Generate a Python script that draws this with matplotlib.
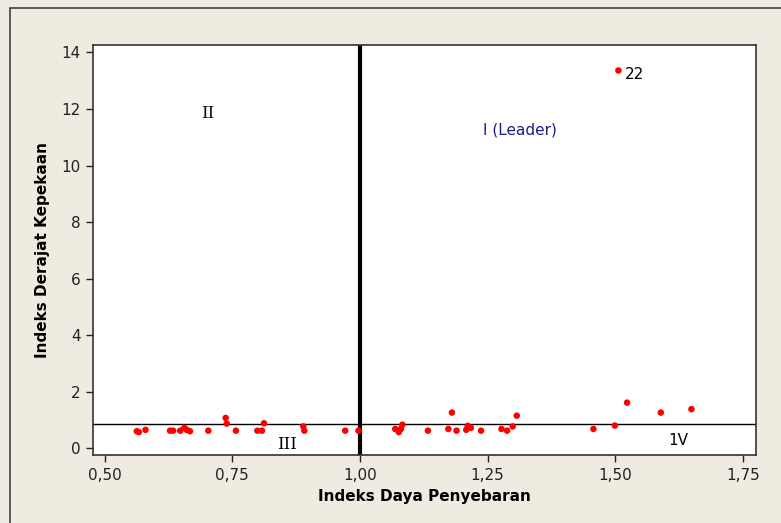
import matplotlib
matplotlib.use("Agg")
import matplotlib.pyplot as plt
from matplotlib.patches import Rectangle

# Indeks Daya Penyebaran (x) and Indeks Derajat Kepekaan (y) per sector
daya_penyebaran = [
    0.563, 0.567, 0.580, 0.628, 0.634, 0.648, 0.656, 0.661, 0.667, 0.703,
    0.737, 0.739, 0.757, 0.799, 0.808, 0.812, 0.889, 0.891, 0.971, 0.997,
    1.069, 1.076, 1.080, 1.083, 1.133, 1.173, 1.180, 1.189, 1.208, 1.211,
    1.217, 1.237, 1.277, 1.288, 1.299, 1.307, 1.457, 1.499, 1.506, 1.523,
    1.589, 1.649,
]
derajat_kepekaan = [
    0.61, 0.58, 0.66, 0.63, 0.63, 0.63, 0.73, 0.66, 0.61, 0.63,
    1.08, 0.88, 0.63, 0.63, 0.63, 0.89, 0.78, 0.63, 0.63, 0.63,
    0.69, 0.58, 0.69, 0.84, 0.63, 0.69, 1.27, 0.63, 0.66, 0.80,
    0.73, 0.63, 0.69, 0.63, 0.78, 1.16, 0.69, 0.81, 13.36, 1.62,
    1.27, 1.39,
]
ref_x = 1.0    # vertical reference line
ref_y = 0.88   # horizontal reference line (mean)
labelled_point = (1.506, 13.36, "22")

x_ticks = [0.50, 0.75, 1.00, 1.25, 1.50, 1.75]
y_ticks = [0, 2, 4, 6, 8, 10, 12, 14]

bg = "#EFEBE1"
fig = plt.figure(figsize=(7.81, 5.23), dpi=100, facecolor=bg)
ax = fig.add_axes([93 / 781, 1 - 455 / 523, (756 - 93) / 781, (455 - 45) / 523])
ax.set_facecolor("white")

# outer frame (top and left edges only visible)
fig.patches.append(Rectangle((10 / 781, -0.05), 1.0, 1 - 7.5 / 523 + 0.05,
                             transform=fig.transFigure, fill=False,
                             edgecolor="#404040", linewidth=1.2))

ax.scatter(daya_penyebaran, derajat_kepekaan, s=22, color="#FF0000",
           edgecolors="none", zorder=3)
ax.axvline(ref_x, color="black", linewidth=3, zorder=2)
ax.axhline(ref_y, color="black", linewidth=1, zorder=2)

ax.text(labelled_point[0] + 0.012, labelled_point[1] - 0.15, labelled_point[2],
        fontsize=11, ha="left", va="center", family="DejaVu Sans")

ax.text(0.702, 11.84, "II", fontsize=12, family="DejaVu Serif",
        ha="center", va="center")
ax.text(1.313, 11.24, "I (Leader)", fontsize=11, color="#1C1C8C",
        ha="center", va="center")
ax.text(0.857, 0.14, "III", fontsize=12, family="DejaVu Serif",
        ha="center", va="center")
ax.text(1.623, 0.28, "1V", fontsize=11, ha="center", va="center")

ax.set_xlim(0.4772, 1.7754)
ax.set_ylim(-0.23, 14.26)
ax.set_xticks(x_ticks)
ax.set_xticklabels([f"{v:.2f}".replace(".", ",") for v in x_ticks])
ax.set_yticks(y_ticks)
ax.tick_params(direction="out", length=5, width=1, labelsize=11,
               colors="#222222", pad=4)
for s in ax.spines.values():
    s.set_color("#333333")
    s.set_linewidth(1.2)

ax.set_xlabel("Indeks Daya Penyebaran", fontsize=11, fontweight="bold",
              labelpad=5)
ax.set_ylabel("Indeks Derajat Kepekaan", fontsize=11, fontweight="bold",
              labelpad=8)

fig.savefig("out.png", dpi=100, facecolor=bg)
